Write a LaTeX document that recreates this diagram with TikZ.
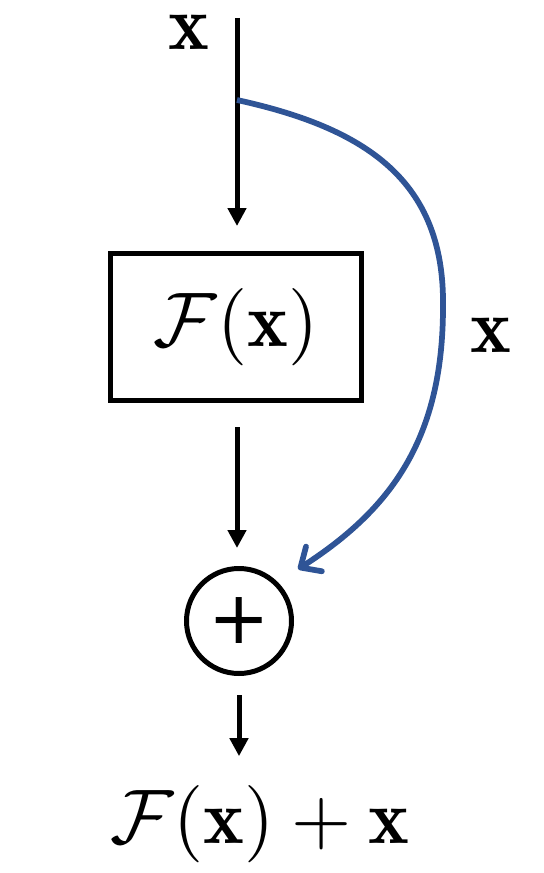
\documentclass[tikz,border=0pt]{standalone}
\usepackage{fontspec}
\usetikzlibrary{arrows.meta}
\newfontfamily\plusfont{DejaVu Sans}
\definecolor{skipblue}{RGB}{47,84,150}
\newcommand{\bigmath}[1]{\scalebox{5.8}{$#1$}}

\tikzset{every picture/.style={line width=0.75pt}}
\tikzset{
	big/.style={inner sep=0pt},
	flow/.style={line width=3.75pt, -{Triangle[length=13.5pt,width=13.5pt]}},
	skip/.style={line width=4.3pt, draw=skipblue, -{Straight Barb[length=12pt,width=22pt,round]}},
}

\begin{document}
\begin{tikzpicture}[x=0.75pt,y=0.75pt,yscale=-1,xscale=1]
	\useasboundingbox (0,0) rectangle (543,873);

	%Input
	\coordinate (in) at (237,18);
	\coordinate (split) at (237,100);
	\node[big] (xtop) at (189,32) {\bigmath{\mathbf{x}}};

	%Residual block
	\node[big, draw, line width=3.75pt, minimum width=188pt, minimum height=109.5pt] (F) at (236,327) {\bigmath{\mathcal{F}(\mathbf{x})}};
	\node[big] (xside) at (491,335) {\bigmath{\mathbf{x}}};

	%Sum
	\node[draw, circle, line width=3.75pt, minimum size=78.75pt, inner sep=0pt, font=\plusfont\fontsize{55}{55}\selectfont] (sum) at (239,621) {+};

	%Output
	\node[big] (out) at (260,824) {\bigmath{\mathcal{F}(\mathbf{x})+\mathbf{x}}};

	%Arrows
	\draw[flow, shorten >=19.1pt] (in) -- (in |- F.north);
	\draw[flow, shorten <=18.4pt, shorten >=13.5pt] (F.south -| in) -- (in |- sum.north);
	\draw[flow, shorten <=14.25pt, shorten >=21.5pt] (sum.south) -- (sum.south |- out.north);
	%Shortcut
	\draw[skip, shorten >=18pt] (split) .. controls (365,128) and (445,180) .. (443,307) .. controls (443,440) and (390,510) .. (sum.north east);

\end{tikzpicture}
\end{document}
